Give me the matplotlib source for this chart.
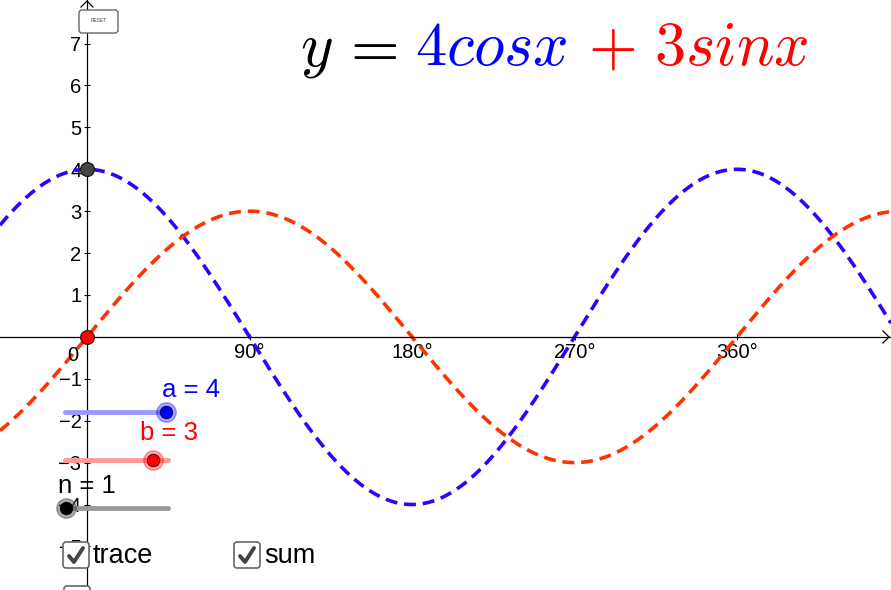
import matplotlib
matplotlib.use('Agg')
import matplotlib.pyplot as plt
from matplotlib.patches import FancyBboxPatch
import numpy as np

plt.rcParams['font.family'] = ['Liberation Sans', 'DejaVu Sans']
plt.rcParams['mathtext.fontset'] = 'cm'

# values shown in the chart
a = 4          # cosine amplitude
b = 3          # sine amplitude
n = 1
x_ticks = [90, 180, 270, 360]
x_tick_labels = ['90°', '180°', '270°', '360°']
y_ticks = [-5, -4, -3, -2, -1, 1, 2, 3, 4, 5, 6, 7]

blue = '#3300ff'
red = '#ff3300'

fig = plt.figure(figsize=(8.91, 5.90), dpi=100)

# main graphics view (degrees on x)
ax = fig.add_axes([0, 0, 1, 1])
ax.set_xlim(-48.2, 445.3)
ax.set_ylim(-6.04, 8.04)
for s in ['top', 'right']:
    ax.spines[s].set_visible(False)
ax.spines['left'].set_position(('data', 0))
ax.spines['bottom'].set_position(('data', 0))
ax.spines['left'].set_linewidth(0.9)
ax.spines['bottom'].set_linewidth(0.9)

ax.set_xticks(x_ticks)
ax.set_xticklabels(x_tick_labels, fontsize=14.5)
ax.set_yticks(y_ticks)
ax.set_yticklabels([str(v).replace('-', '\u2212') for v in y_ticks], fontsize=14.5)
ax.tick_params(axis='x', direction='inout', length=5, pad=2)
ax.tick_params(axis='y', direction='inout', length=5, pad=1.5)
ax.text(-8, -0.22, '0', fontsize=14.5, ha='center', va='top')

# curves
x = np.linspace(-48.2, 445.3, 800)
ax.plot(x, a * np.cos(np.radians(x)), color=blue, lw=2.6, dashes=(3.3, 1.9))
ax.plot(x, b * np.sin(np.radians(x)), color=red, lw=2.6, dashes=(3.3, 1.9))

ax.plot([0], [a], 'o', ms=10, mfc='#444444', mec='#111111', mew=0.8, zorder=5)
ax.plot([0], [0], 'o', ms=10, mfc='#ff0000', mec='#222222', mew=0.8, zorder=5)

# UI overlay in pixel units
ui = fig.add_axes([0, 0, 1, 1])
ui.set_xlim(0, 891)
ui.set_ylim(590, 0)
ui.axis('off')
ui.patch.set_alpha(0)

# axis arrow heads
ui.plot([883, 889, 883], [331, 337, 343], color='k', lw=0.9)
ui.plot([81, 87, 93], [7, 1, 7], color='k', lw=0.9)

# title
ui.text(300, 65, r'$y$', fontsize=45, color='black', va='baseline')
ui.text(340, 65, r'$=$', fontsize=45, color='black', va='baseline')
ui.text(415, 65, r'$4cosx$', fontsize=45, color='#0000ff', va='baseline')
ui.text(588, 65, r'$+$', fontsize=45, color='#ff0000', va='baseline')
ui.text(654, 65, r'$3sinx$', fontsize=45, color='#ff0000', va='baseline')

# reset button
ui.add_patch(FancyBboxPatch((79, 10), 39, 23, boxstyle='round,pad=0,rounding_size=3',
                            fc='white', ec='#666666', lw=1, zorder=6))
ui.text(98.5, 21, 'RESET', fontsize=3.5, color='#444444', ha='center', va='center', zorder=7)

# sliders
ui.plot([65, 166], [412, 412], color='#9999ff', lw=3.5, solid_capstyle='round')
ui.plot([166], [412], 'o', ms=14, color='#0000ff', alpha=0.35)
ui.plot([166], [412], 'o', ms=9, mfc='#0000ff', mec='#000033', mew=0.6)
ui.text(191, 390, 'a = %d' % a, fontsize=18.5, color='#0000ff', ha='center', va='center')

ui.plot([65, 168], [460, 460], color='#ff9999', lw=3.5, solid_capstyle='round')
ui.plot([153], [460], 'o', ms=14, color='#ff0000', alpha=0.35)
ui.plot([153], [460], 'o', ms=9, mfc='#ff0000', mec='#330000', mew=0.6)
ui.text(169, 433, 'b = %d' % b, fontsize=18.5, color='#ff0000', ha='center', va='center')

ui.plot([65, 168], [508, 508], color='#999999', lw=3.5, solid_capstyle='round')
ui.plot([66], [508], 'o', ms=14, color='#444444', alpha=0.45)
ui.plot([66], [508], 'o', ms=9, mfc='#000000', mec='#000000', mew=0.6)
ui.text(87, 486, 'n = %d' % n, fontsize=18.5, color='black', ha='center', va='center')

# checkboxes
def checkbox(x0, y0, label):
    ui.add_patch(FancyBboxPatch((x0, y0), 26, 26, boxstyle='round,pad=0,rounding_size=3',
                                fc='white', ec='#666666', lw=1.2, zorder=6))
    ui.plot([x0 + 6, x0 + 11, x0 + 20], [y0 + 14, y0 + 20, y0 + 6], color='#444444',
            lw=2.8, solid_capstyle='round', zorder=7)
    if label:
        ui.text(x0 + 30, y0 + 14, label, fontsize=19.5, color='black', va='center', zorder=7)

checkbox(63, 542, 'trace')
checkbox(234, 542, 'sum')
checkbox(64, 586, '')

fig.savefig('out.png', dpi=100)
